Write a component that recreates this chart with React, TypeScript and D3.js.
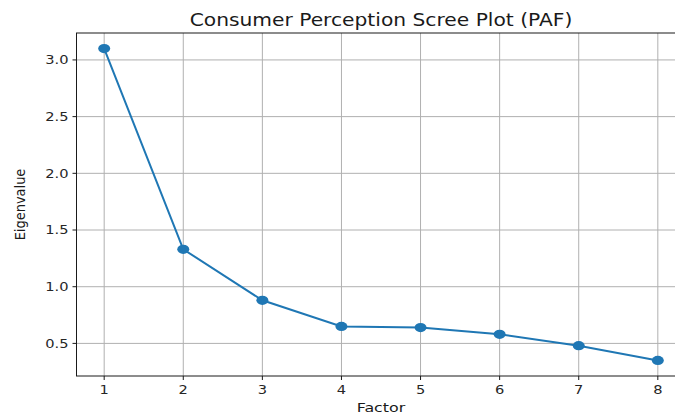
import React, { useRef, useEffect } from 'react';
import * as d3 from 'd3';

const factors = [1, 2, 3, 4, 5, 6, 7, 8];
const eigenvalues = [3.1, 1.33, 0.88, 0.65, 0.64, 0.58, 0.48, 0.35];
const yTicks = [0.5, 1.0, 1.5, 2.0, 2.5, 3.0];
const chartTitle = 'Consumer Perception Scree Plot (PAF)';
const xLabel = 'Factor';
const yLabel = 'Eigenvalue';

export default function App() {
  const svgRef = useRef<SVGSVGElement | null>(null);

  useEffect(() => {
    if (!svgRef.current) return;
    const width = 675;
    const height = 416;
    const margin = { top: 33, right: -10.5, bottom: 40, left: 76.5 };
    const innerWidth = width - margin.left - margin.right;
    const innerHeight = height - margin.top - margin.bottom;
    const sx = 1.22; // horizontal stretch seen in the picture's text
    const font = 'DejaVu Sans, sans-serif';

    const svg = d3.select(svgRef.current);
    svg.selectAll('*').remove();

    const g = svg.append('g').attr('transform', `translate(${margin.left},${margin.top})`);

    const xScale = d3.scaleLinear().domain([0.65, 8.35]).range([0, innerWidth]);
    const yScale = d3.scaleLinear().domain([0.2125, 3.2375]).range([innerHeight, 0]);

    // Grid
    factors.forEach((f) => {
      g.append('line')
        .attr('x1', xScale(f)).attr('x2', xScale(f))
        .attr('y1', 0).attr('y2', innerHeight)
        .attr('stroke', '#b0b0b0').attr('stroke-width', 1);
    });
    yTicks.forEach((t) => {
      g.append('line')
        .attr('x1', 0).attr('x2', innerWidth)
        .attr('y1', yScale(t)).attr('y2', yScale(t))
        .attr('stroke', '#b0b0b0').attr('stroke-width', 1);
    });

    // Line and markers
    const data = factors.map((f, i) => ({ f, v: eigenvalues[i] }));
    const line = d3.line<{ f: number; v: number }>()
      .x(d => xScale(d.f))
      .y(d => yScale(d.v));

    g.append('path')
      .datum(data)
      .attr('fill', 'none')
      .attr('stroke', '#1f77b4')
      .attr('stroke-width', 2)
      .attr('d', line);

    g.selectAll('ellipse.pt')
      .data(data)
      .join('ellipse')
      .attr('class', 'pt')
      .attr('cx', d => xScale(d.f))
      .attr('cy', d => yScale(d.v))
      .attr('rx', 6)
      .attr('ry', 4.6)
      .attr('fill', '#1f77b4');

    // Spines
    g.append('rect')
      .attr('x', 0).attr('y', 0)
      .attr('width', innerWidth).attr('height', innerHeight)
      .attr('fill', 'none')
      .attr('stroke', '#1a1a1a').attr('stroke-width', 1);

    // Ticks
    yTicks.forEach((t) => {
      g.append('line')
        .attr('x1', -4).attr('x2', 0)
        .attr('y1', yScale(t)).attr('y2', yScale(t))
        .attr('stroke', '#1a1a1a');
      g.append('text')
        .attr('transform', `translate(-8,${yScale(t) + 4.3}) scale(${sx},1)`)
        .attr('text-anchor', 'end')
        .attr('font-family', font)
        .attr('font-size', 12)
        .attr('fill', '#262626')
        .text(t.toFixed(1));
    });
    factors.forEach((f) => {
      g.append('line')
        .attr('x1', xScale(f)).attr('x2', xScale(f))
        .attr('y1', innerHeight).attr('y2', innerHeight + 4)
        .attr('stroke', '#1a1a1a');
      g.append('text')
        .attr('transform', `translate(${xScale(f)},${innerHeight + 18}) scale(${sx},1)`)
        .attr('text-anchor', 'middle')
        .attr('font-family', font)
        .attr('font-size', 12)
        .attr('fill', '#262626')
        .text(String(f));
    });

    const cx = margin.left + innerWidth / 2;

    // Title
    svg.append('text')
      .attr('transform', `translate(${cx},26) scale(1.19,1)`)
      .attr('text-anchor', 'middle')
      .attr('font-family', font)
      .attr('font-size', 17)
      .attr('fill', '#1a1a1a')
      .text(chartTitle);

    // Axis labels
    svg.append('text')
      .attr('transform', `translate(${cx},412) scale(${sx},1)`)
      .attr('text-anchor', 'middle')
      .attr('font-family', font)
      .attr('font-size', 13)
      .attr('fill', '#1a1a1a')
      .text(xLabel);

    svg.append('text')
      .attr('transform', `translate(25,${margin.top + innerHeight / 2}) scale(1.05,1) rotate(-90)`)
      .attr('text-anchor', 'middle')
      .attr('font-family', font)
      .attr('font-size', 13)
      .attr('fill', '#1a1a1a')
      .text(yLabel);
  }, []);

  return (
    <svg
      ref={svgRef}
      width={675}
      height={416}
      style={{ position: 'absolute', left: 0, top: 0, background: '#fff' }}
    />
  );
}
